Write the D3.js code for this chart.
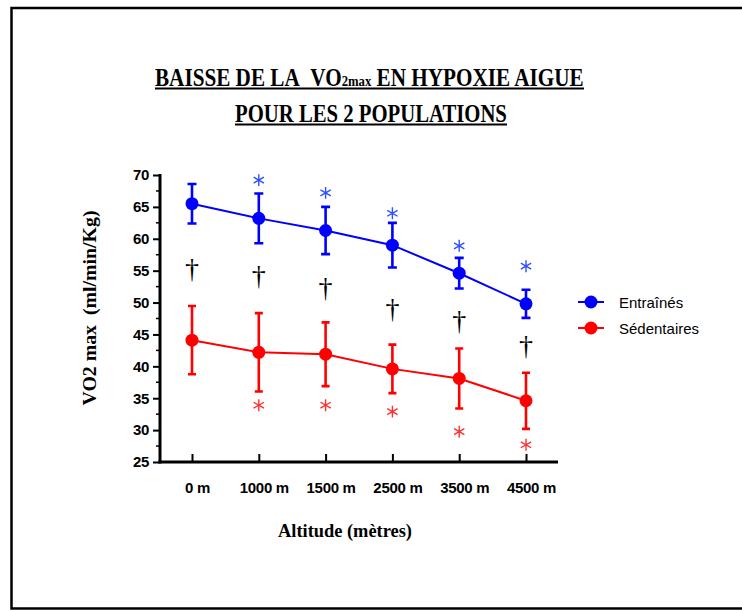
<!DOCTYPE html>
<html>
<head>
<meta charset="utf-8">
<script src="https://cdn.jsdelivr.net/npm/d3@7"></script>
<style>
  html, body { margin: 0; padding: 0; background: #fff; }
  svg { display: block; }
</style>
</head>
<body>
<svg id="chart" width="742" height="611"></svg>
<script>
// Altitudes tested and VO2max (ml/min/kg) means ± SD for both groups
const altitudes = ["0 m", "1000 m", "1500 m", "2500 m", "3500 m", "4500 m"];
const trainedMean = [65.5, 63.2, 61.3, 59.0, 54.6, 49.8];
const trainedSD   = [3.1, 3.9, 3.7, 3.5, 2.4, 2.2];
const sedentaryMean = [44.1, 42.2, 41.9, 39.6, 38.1, 34.6];
const sedentarySD   = [5.35, 6.15, 5.0, 3.8, 4.7, 4.4];

// Significance marks, placed at a VO2 level on the y scale (null = none)
const trainedStarAt   = [null, 69.2, 67.2, 64.0, 58.9, 55.7];
const sedentaryStarAt = [null, 33.9, 33.9, 32.9, 29.75, 27.7];
const daggerAt        = [55.1, 54.0, 52.0, 48.8, 46.8, 42.9];

const yTicks = [25, 30, 35, 40, 45, 50, 55, 60, 65, 70];
const seriesNames = ["Entraînés", "Sédentaires"];

const BLUE = "#0000ff", RED = "#ff0000";
const SANS = "'Liberation Sans', Arial, sans-serif";
const SERIF = "'Liberation Serif', 'Times New Roman', serif";

const svg = d3.select("#chart");

// outer frame
svg.append("path")
  .attr("d", "M744,8 H11.5 V608.5 H744")
  .attr("fill", "none").attr("stroke", "#000").attr("stroke-width", 2.5);

const x = d3.scalePoint().domain(altitudes).range([192, 526]);
const y = d3.scaleLinear().domain([25, 70]).range([462, 175]);
const axisLeft = 160, axisRight = 558;

// ---- title (bold serif, condensed, underlined) ----
function titleLine(cy, widthTarget, cx, build) {
  const t = svg.append("text")
    .attr("font-family", SERIF).attr("font-weight", "bold")
    .attr("font-size", 25).attr("fill", "#000")
    .attr("text-anchor", "start");
  build(t);
  const w = t.node().getComputedTextLength();
  const sx = widthTarget / w;
  const left = cx - widthTarget / 2;
  t.attr("transform", `translate(${left},${cy}) scale(${sx},1)`);
  svg.append("rect").attr("x", left).attr("y", cy + 2)
    .attr("width", widthTarget).attr("height", 2).attr("fill", "#000");
}
titleLine(85.5, 429, 369.5, t => {
  t.append("tspan").text("BAISSE DE LA\u00a0\u00a0VO");
  t.append("tspan").attr("font-size", 15).text("2max");
  t.append("tspan").text(" EN HYPOXIE AIGUE");
});
titleLine(121.5, 272, 371, t => {
  t.append("tspan").text("POUR LES 2 POPULATIONS");
});

// ---- axes ----
const g = svg.append("g");

// y axis line and ticks
g.append("line").attr("x1", axisLeft).attr("x2", axisLeft)
  .attr("y1", y(70) - 1).attr("y2", y(25) + 1.5)
  .attr("stroke", "#000").attr("stroke-width", 3);
const yAxis = d3.axisLeft(y).tickValues(yTicks).tickSize(6).tickPadding(4);
const yg = g.append("g").attr("transform", `translate(${axisLeft - 1},0)`).call(yAxis);
yg.select(".domain").remove();
yg.selectAll(".tick line").attr("stroke", "#000").attr("stroke-width", 2);
yg.selectAll(".tick text")
  .attr("font-family", SANS).attr("font-weight", "bold")
  .attr("font-size", 15).attr("letter-spacing", -0.3).attr("fill", "#000");
// minor ticks
const minor = d3.range(27.5, 70, 5);
g.selectAll(".minor").data(minor).join("line")
  .attr("x1", axisLeft - 4).attr("x2", axisLeft)
  .attr("y1", d => y(d)).attr("y2", d => y(d))
  .attr("stroke", "#000").attr("stroke-width", 1.5);

// x axis line, inward ticks and labels
g.append("line").attr("x1", axisLeft - 1.5).attr("x2", axisRight)
  .attr("y1", y(25)).attr("y2", y(25))
  .attr("stroke", "#000").attr("stroke-width", 3);
const xAxis = d3.axisBottom(x).tickSize(-8).tickPadding(20);
const xg = g.append("g").attr("transform", `translate(0,${y(25)})`).call(xAxis);
xg.select(".domain").remove();
xg.selectAll(".tick line").attr("stroke", "#000").attr("stroke-width", 2);
xg.selectAll(".tick text")
  .attr("dx", 5)
  .attr("font-family", SANS).attr("font-weight", "bold")
  .attr("font-size", 15).attr("letter-spacing", -0.3).attr("fill", "#000");

// axis titles
svg.append("text")
  .attr("font-family", SERIF).attr("font-weight", "bold")
  .attr("font-size", 19).attr("fill", "#000")
  .attr("text-anchor", "middle")
  .attr("transform", "translate(96,308) rotate(-90)")
  .attr("textLength", 195).attr("lengthAdjust", "spacingAndGlyphs")
  .text("VO2 max\u00a0\u00a0(ml/min/Kg)");
svg.append("text")
  .attr("font-family", SERIF).attr("font-weight", "bold")
  .attr("font-size", 18).attr("fill", "#000")
  .attr("text-anchor", "middle")
  .attr("x", 345).attr("y", 537)
  .attr("textLength", 134).attr("lengthAdjust", "spacingAndGlyphs")
  .text("Altitude (mètres)");

// ---- series ----
function drawSeries(means, sds, color, capW) {
  const pts = altitudes.map((a, i) => ({ a, m: means[i], s: sds[i] }));
  const sg = svg.append("g");
  sg.selectAll(".eb").data(pts).join("path")
    .attr("d", d => {
      const cx = x(d.a), t = y(d.m + d.s), b = y(d.m - d.s);
      return `M${cx},${t}V${b}M${cx - capW / 2},${t}H${cx + capW / 2}M${cx - capW / 2},${b}H${cx + capW / 2}`;
    })
    .attr("fill", "none").attr("stroke", color).attr("stroke-width", 2.6);
  sg.append("path").datum(pts)
    .attr("d", d3.line().x(d => x(d.a)).y(d => y(d.m)))
    .attr("fill", "none").attr("stroke", color).attr("stroke-width", 2);
  sg.selectAll("circle").data(pts).join("circle")
    .attr("cx", d => x(d.a)).attr("cy", d => y(d.m)).attr("r", 6.5)
    .attr("fill", color);
}
drawSeries(trainedMean, trainedSD, BLUE, 9);
drawSeries(sedentaryMean, sedentarySD, RED, 8);

// ---- significance marks ----
const star = d3.symbol().type(d3.symbolAsterisk).size(100);
function drawStars(levels, color) {
  svg.append("g").selectAll("path")
    .data(altitudes.map((a, i) => ({ a, v: levels[i] })).filter(d => d.v != null))
    .join("path")
    .attr("transform", d => `translate(${x(d.a)},${y(d.v)})`)
    .attr("d", star)
    .attr("fill", "none").attr("stroke", color).attr("stroke-width", 1.4);
}
drawStars(trainedStarAt, "#3050ff");
drawStars(sedentaryStarAt, "#ff3030");

svg.append("g").selectAll("text")
  .data(altitudes.map((a, i) => ({ a, v: daggerAt[i] })))
  .join("text")
  .attr("x", d => x(d.a)).attr("y", d => y(d.v) + 7.5)
  .attr("text-anchor", "middle")
  .attr("font-family", SERIF).attr("font-size", 28).attr("fill", "#000")
  .text("†");

// ---- legend ----
const legend = svg.append("g");
[BLUE, RED].forEach((c, i) => {
  const ly = 302 + i * 26;
  legend.append("line").attr("x1", 578).attr("x2", 604)
    .attr("y1", ly).attr("y2", ly).attr("stroke", c).attr("stroke-width", 2);
  legend.append("circle").attr("cx", 591).attr("cy", ly).attr("r", 6.5).attr("fill", c);
  legend.append("text").attr("x", 619).attr("y", ly + 6)
    .attr("font-family", SANS).attr("font-size", 15).attr("fill", "#000")
    .text(seriesNames[i]);
});
</script>
</body>
</html>
